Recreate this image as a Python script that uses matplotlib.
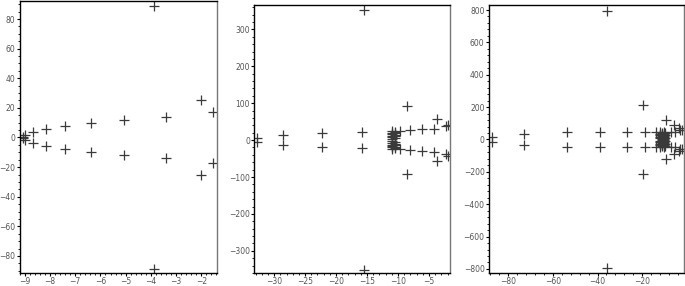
import matplotlib
matplotlib.use("Agg")
import matplotlib.pyplot as plt
from matplotlib.ticker import MultipleLocator, AutoMinorLocator

# upper-half roots (x = real part, y = imaginary part); plotted mirrored as +/- y
p1_re = [-3.86, -2.01, -1.53, -3.39, -5.08, -6.39, -7.41, -8.16, -8.69, -8.98, -9.06]
p1_im = [89, 25, 17, 13.8, 11.6, 9.6, 7.6, 5.8, 3.6, 1.8, 0.3]

p2_re = [-15.5, -32.8, -28.6, -22.2, -15.8, -9.7, -8.5, -8.0, -6.2, -4.15, -3.67, -2.3, -2.0,
         -10.9, -10.9, -10.9, -10.9, -10.9, -10.9, -10.5, -10.5, -10.5, -10.5, -10.5]
p2_im = [352, 5, 14, 20, 22, 24, 93, 27, 29, 31, 57, 38, 42,
         24, 20, 16, 12, 8, 3, 22, 18, 14, 10, 5]

p3_re = [-35.8, -87.4, -72.9, -53.9, -38.75, -26.9, -19.7, -18.5, -9.4, -5.7, -3.7, -3.0,
         -13.8, -7.2, -5.4, -2.3,
         -12.2, -12.2, -12.2, -12.2, -12.2, -11.3, -11.3, -11.3, -11.3, -11.3,
         -10.4, -10.4, -10.4, -10.4, -10.4, -9.7, -9.7, -9.7]
p3_im = [795, 18, 35, 48, 48, 48, 212, 45, 120, 89, 72, 56,
         45, 45, 45, 58,
         45, 36, 27, 18, 9, 42, 32, 22, 12, 3,
         45, 34, 24, 14, 5, 40, 25, 8]

panels = [
    dict(re=p1_re, im=p1_im, xlim=(-9.21, -1.39), ylim=(-91.5, 92.5),
         xmaj=1, xmin=5, ymaj=20, ymin=4, rect=[19.5, 0.5, 216.7, 273]),
    dict(re=p2_re, im=p2_im, xlim=(-33.2, -1.56), ylim=(-360, 366),
         xmaj=5, xmin=5, ymaj=100, ymin=5, rect=[254.3, 5, 450.3, 273]),
    dict(re=p3_re, im=p3_im, xlim=(-88.8, -1.1), ylim=(-825, 831),
         xmaj=20, xmin=5, ymaj=200, ymin=5, rect=[488.7, 5, 684.3, 273]),
]

W, H = 685, 286
fig = plt.figure(figsize=(W / 100, H / 100), dpi=100)

for p in panels:
    l, t, r, b = p["rect"]
    ax = fig.add_axes([l / W, (H - b) / H, (r - l) / W, (b - t) / H])
    xs = list(p["re"]) + list(p["re"])
    ys = list(p["im"]) + [-v for v in p["im"]]
    ax.plot(xs, ys, linestyle="none", marker="+", markersize=7,
            markeredgewidth=0.9, color="#3a3a3a")
    ax.set_xlim(*p["xlim"])
    ax.set_ylim(*p["ylim"])
    ax.xaxis.set_major_locator(MultipleLocator(p["xmaj"]))
    ax.yaxis.set_major_locator(MultipleLocator(p["ymaj"]))
    ax.xaxis.set_minor_locator(AutoMinorLocator(p["xmin"]))
    ax.yaxis.set_minor_locator(AutoMinorLocator(p["ymin"]))
    ax.tick_params(which="major", direction="out", length=2.5, width=0.8,
                   labelsize=5.5, labelcolor="#555555", pad=0.5)
    ax.tick_params(which="minor", direction="out", length=1.5, width=0.6)
    for s in ax.spines.values():
        s.set_linewidth(1.0)
        s.set_color("black")
    ax.spines["right"].set_color("#777777")

fig.savefig("out.png", dpi=100)
